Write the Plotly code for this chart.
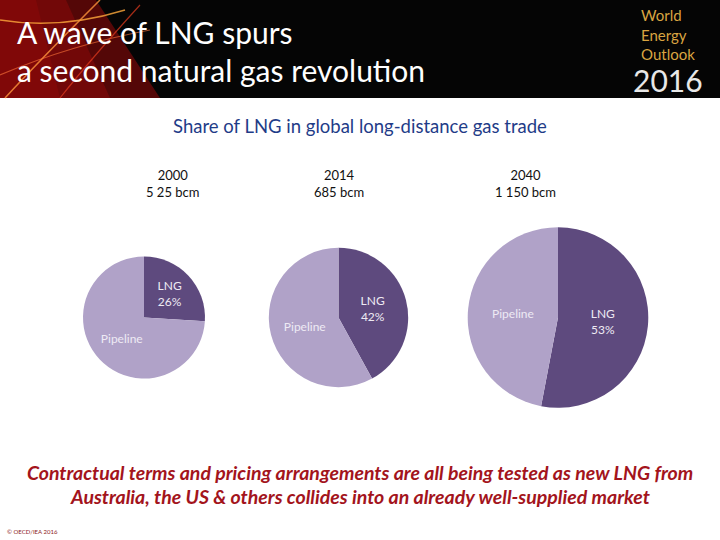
import math
import plotly.graph_objects as go

# ---- data ----
years = ["2000", "2014", "2040"]
volumes_bcm = [525, 685, 1150]
volume_labels = ["5 25 bcm", "685 bcm", "1 150 bcm"]
categories = ["LNG", "Pipeline"]
lng_share = [26, 42, 53]

title_lines = ["A wave of LNG spurs", "a second natural gas revolution"]
subtitle = "Share of LNG in global long-distance gas trade"
footer_lines = ["Contractual terms and pricing arrangements are all being tested as new LNG from",
                "Australia, the US & others collides into an already well-supplied market"]
logo_lines = ["World", "Energy", "Outlook"]
logo_year = "2016"

W, H = 720, 540
centers_x = [144, 338.5, 558]
center_y = 317.5
base_r = 61.0

colors = ["#5E4A7E", "#B0A2C8"]
FONT = "Lato"

fig = go.Figure()
for i, (yr, vol, share) in enumerate(zip(years, volumes_bcm, lng_share)):
    r = base_r * math.sqrt(vol / volumes_bcm[0])
    cx = centers_x[i]
    x0, x1 = (cx - r) / W, (cx + r) / W
    y0, y1 = 1 - (center_y + r) / H, 1 - (center_y - r) / H
    vals = [share, 100 - share]
    fig.add_trace(go.Pie(
        labels=categories, values=vals, sort=False, direction="clockwise", rotation=0,
        marker=dict(colors=colors, line=dict(width=0)),
        text=[f"LNG<br>{share}%", "Pipeline"], textinfo="text",
        textposition="inside", insidetextorientation="horizontal",
        textfont=dict(family=FONT, size=12, color="#EEEAF4"),
        domain=dict(x=[x0, x1], y=[y0, y1]), showlegend=False, hoverinfo="label+percent",
    ))
    fig.add_annotation(x=cx / W, y=1 - 183 / H, xref="paper", yref="paper",
                       text=f"{yr}<br>{volume_labels[i]}", showarrow=False,
                       font=dict(family=FONT, size=13, color="#111"), align="center")

shapes = [
    dict(type="rect", xref="paper", yref="paper", x0=0, x1=1, y0=1 - 98 / H, y1=1,
         fillcolor="#050505", line=dict(width=0), layer="below"),
]
glows = [(160, 0.55), (110, 0.45), (60, 0.4)]
for gx1, op in glows:
    shapes.append(dict(type="path", xref="paper", yref="paper",
                       path=f"M 0 {1-98/H} L {gx1/W} {1-98/H} L {gx1*0.6/W} 1 L 0 1 Z",
                       fillcolor=f"rgba(150,10,10,{op})", line=dict(width=0), layer="below"))
shapes.append(dict(type="path", xref="paper", yref="paper",
                   path=f"M 0 {1-20/H} Q {60/W} {1-30/H} {125/W} {1-10/H}",
                   line=dict(color="rgba(255,170,60,0.8)", width=1.5)))
shapes.append(dict(type="path", xref="paper", yref="paper",
                   path=f"M {5/W} {1-98/H} Q {40/W} {1-60/H} {100/W} 1",
                   line=dict(color="rgba(255,150,60,0.8)", width=1.5)))
shapes.append(dict(type="path", xref="paper", yref="paper",
                   path=f"M 0 {1-75/H} Q {70/W} {1-45/H} {150/W} {1-30/H}",
                   line=dict(color="rgba(255,120,60,0.6)", width=1.2)))
shapes.append(dict(type="path", xref="paper", yref="paper",
                   path=f"M {60/W} {1-98/H} Q {90/W} {1-60/H} {140/W} {1-5/H}",
                   line=dict(color="rgba(230,60,30,0.7)", width=1.2)))

annotations = [
    dict(x=15 / W, y=1 - 32 / H, text=title_lines[0], xanchor="left", yanchor="middle",
         font=dict(family=FONT, size=30, color="white")),
    dict(x=15 / W, y=1 - 70 / H, text=title_lines[1], xanchor="left", yanchor="middle",
         font=dict(family=FONT, size=30, color="white")),
    dict(x=1 - 52 / W, y=1 - 34 / H, text="<br>".join(logo_lines), xanchor="center", yanchor="middle",
         align="left", font=dict(family="DejaVu Sans ExtraLight, Lato", size=15, color="#D9A441")),
    dict(x=1 - 52 / W, y=1 - 80 / H, text=logo_year, xanchor="center", yanchor="middle",
         font=dict(family="DejaVu Sans ExtraLight, Lato", size=30, color="#E8E8E8")),
    dict(x=0.5, y=1 - 126 / H, text=subtitle, xanchor="center", yanchor="middle",
         font=dict(family=FONT, size=18.5, color="#1F3C88")),
    dict(x=0.5, y=1 - 472 / H, text=f"<b><i>{footer_lines[0]}</i></b>", xanchor="center", yanchor="middle",
         font=dict(family=FONT, size=19.5, color="#A3141C")),
    dict(x=0.5, y=1 - 496 / H, text=f"<b><i>{footer_lines[1]}</i></b>", xanchor="center", yanchor="middle",
         font=dict(family=FONT, size=19.5, color="#A3141C")),
    dict(x=5 / W, y=1 - 531 / H, text="© OECD/IEA 2016", xanchor="left", yanchor="middle",
         font=dict(family=FONT, size=6, color="#8B1A1A")),
]
for a in annotations:
    a.update(xref="paper", yref="paper", showarrow=False)
    fig.add_annotation(**a)

fig.update_layout(width=W, height=H, margin=dict(l=0, r=0, t=0, b=0),
                  paper_bgcolor="white", plot_bgcolor="white", shapes=shapes)
fig.write_html("out.html")
